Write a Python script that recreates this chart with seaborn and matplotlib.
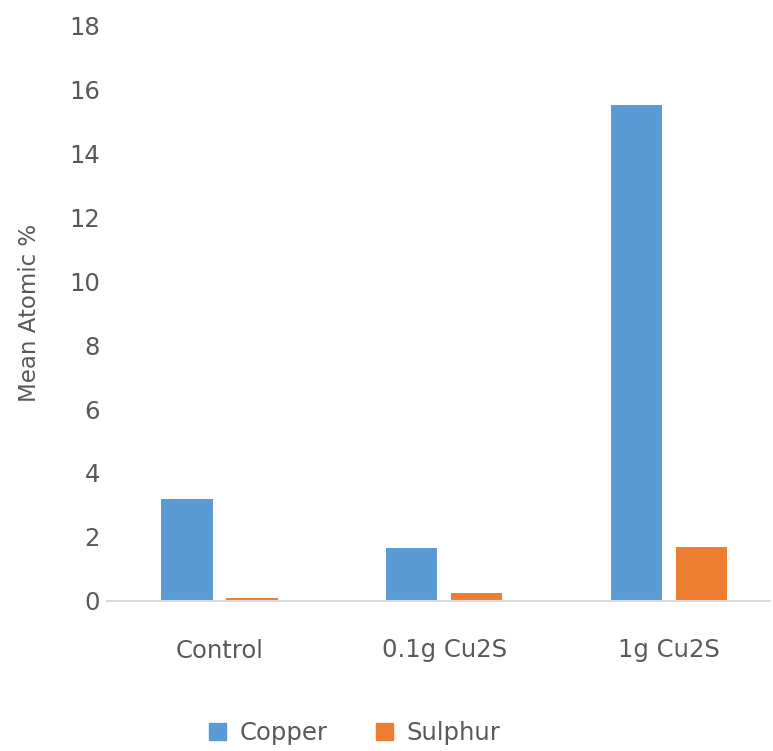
import pandas as pd
import numpy as np
import seaborn as sns
import matplotlib.pyplot as plt

groups = ["Control", "0.1g Cu2S", "1g Cu2S"]
copper = [3.2, 1.67, 15.5]
sulphur = [0.08, 0.25, 1.7]
series = ["Copper", "Sulphur"]
colors = ["#5B9BD5", "#ED7D31"]
yticks = [0, 2, 4, 6, 8, 10, 12, 14, 16, 18]

df = pd.DataFrame({
    "group": groups * 2,
    "element": ["Copper"] * 3 + ["Sulphur"] * 3,
    "value": copper + sulphur,
})

sns.set_style("white")
plt.rcParams['font.family'] = ['DejaVu Sans']

fig = plt.figure(figsize=(7.73, 7.51), dpi=100)
ax = fig.add_axes([107 / 773, 150 / 751, 663 / 773, 576 / 751])

sns.barplot(data=df, x="group", y="value", hue="element", order=groups,
            hue_order=series, palette=colors, saturation=1, width=0.58, gap=0.21,
            ax=ax, legend=False, linewidth=0)

ax.set_ylim(0, 18)
ax.set_xlim(-0.5, 2.45)
ax.set_yticks(yticks)
ax.set_xlabel("")
ax.set_ylabel("Mean Atomic %", fontsize=16.5, color="#595959", labelpad=20)
ax.tick_params(axis="y", length=0, labelsize=17.5, labelcolor="#595959", pad=5)
ax.tick_params(axis="x", length=0, labelsize=17.5, labelcolor="#595959", pad=27)
for s in ["top", "right", "left"]:
    ax.spines[s].set_visible(False)
ax.spines["bottom"].set_color("#d9d9d9")
ax.spines["bottom"].set_linewidth(1.5)

handles = [plt.Rectangle((0, 0), 1, 1, color=c) for c in colors]
fig.legend(handles, series, loc="center", bbox_to_anchor=(355 / 773, 18 / 751),
           ncol=2, frameon=False, fontsize=17.5, labelcolor="#595959",
           handlelength=0.7, handleheight=0.7, handletextpad=0.55, columnspacing=2.0)

fig.savefig("out.png", dpi=100)
